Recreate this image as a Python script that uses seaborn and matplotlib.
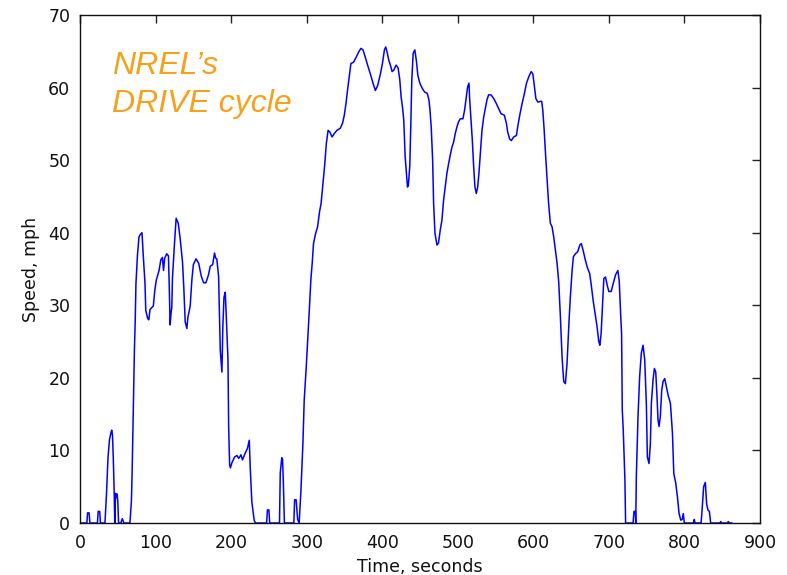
import matplotlib
matplotlib.use("Agg")
import matplotlib.pyplot as plt
import seaborn as sns
import pandas as pd

time_s = [0, 9, 10, 12, 13, 23, 24, 26, 27, 33, 35, 37, 39, 41, 42, 43, 44, 45, 46, 47, 48, 49, 50, 51, 54, 56, 58,
          66, 68, 69, 70, 71, 72, 73, 74, 76, 78, 80, 82, 84, 86, 87, 89.5, 91, 92.6, 95, 97, 99, 101, 104.6, 107, 109,
          110.5, 112, 114.8, 117, 118, 119.2, 120.5, 121.4, 122.3, 125, 127.2, 130, 132.5, 135.6, 137.4, 139.2, 141.4,
          142.7, 145.8, 148, 150, 153.5, 157, 160.5, 163.6, 166.6, 170, 172.4, 175.5, 178, 179.5, 181, 183.4, 185.6,
          187.8, 189, 190.5, 192.2, 193.6, 195.8, 196.7, 198, 199, 201, 204.6, 207.7, 210, 213, 215, 218.5, 221.6, 224,
          225.2, 227.4, 230.5, 232, 247, 248, 250, 251, 264, 265, 267, 268, 269, 270.5, 283, 284, 286, 288, 290,
          292.3, 295, 296.7, 299.4, 301.6, 303.8, 305.5, 307.3, 309, 311.8, 314.4, 317, 319, 321.6, 323.8, 326, 328.3,
          330.5, 333.6, 336.7, 340, 344.5, 347.5, 349.8, 352, 354, 356.8, 358.5, 362, 365.6, 368.7, 371.8, 374.5,
          377.5, 380.6, 384.2, 387.8, 390.9, 394, 397.6, 400.2, 402.9, 404.6, 406.4, 408.6, 410.8, 413, 415.2, 418.3,
          421, 423.2, 425, 426.8, 428.5, 430.3, 432, 433.4, 434.5, 436.4, 437.8, 439.1, 440.9, 443.1, 445.3, 447.1,
          449.8, 452.9, 456, 459.6, 461.8, 463.2, 464.9, 466.7, 468, 469.8, 472.4, 474.5, 476.8, 479, 481.2, 483.4,
          485.6, 487.8, 490, 492.3, 494.5, 496.7, 498.9, 501.1, 503.3, 506.8, 509, 511.3, 513, 514.8, 515.7, 517.4,
          519.2, 521, 522.7, 524.5, 526.3, 528, 529.8, 532, 534.2, 536.4, 538.6, 540.8, 543.9, 547.5, 551, 554.1,
          557.2, 561.6, 564.3, 566, 568.7, 570.9, 574, 577.6, 579.3, 582, 585.1, 588.2, 590.9, 594, 597.1, 599.3,
          601.5, 603.3, 606, 609.5, 611, 612.5, 614.3, 616.2, 618.2, 620.2, 622.5, 624.8, 627, 629.2, 631.4, 633.6,
          635.8, 638, 640.2, 642.4, 644.6, 647.3, 649, 651.3, 653, 655.7, 658.8, 661.4, 663.5, 665.8, 668.9, 671.5,
          674.5, 676.4, 679.1, 681.7, 684.4, 686.6, 688, 689.7, 691.5, 693.3, 695.5, 697.7, 699.9, 703, 705.7, 708.8,
          711.9, 713.7, 715.5, 716.8, 717.7, 719, 721.2, 722.1, 732, 733.2, 735, 735.5, 736.3, 738.5, 740.7, 742.9,
          745.2, 747.4, 749.6, 750.9, 753.1, 754.9, 756.2, 758.4, 760.2, 762, 763.7, 765, 766.4, 768.1, 769.9, 771.7,
          773.9, 776.1, 778.4, 781.4, 784.1, 785.9, 788.5, 790.7, 792.9, 795.1, 797, 798.5, 799.8, 812, 813, 814, 822,
          823.2, 825.4, 827.6, 829.4, 831.1, 833, 834.7, 847, 848, 849, 857, 858, 859, 863]

speed_mph = [0, 0, 1.4, 1.4, 0, 0, 1.6, 1.6, 0, 0, 4, 9, 11.5, 12.5, 12.8, 12, 9, 5, 0, 4.1, 3.5, 4, 3, 0, 0, 0.6, 0,
             0, 3, 7.3, 13, 19.5, 24, 27.7, 33, 36.9, 39.4, 39.8, 40.0, 36.3, 33, 29.3, 28.2, 28.0, 29.4, 29.7, 29.9,
             32.1, 33.5, 34.8, 36.3, 36.6, 34.8, 36.5, 37.1, 36.8, 33, 27.3, 29, 29.6, 33.7, 38.5, 42.0, 41.3, 39.2, 36,
             32.3, 27.7, 26.8, 28.3, 29.9, 33.5, 35.6, 36.4, 35.8, 34, 33.1, 33.1, 34.2, 35.4, 35.6, 37.2, 36.5, 36.4,
             34, 23.8, 20.8, 27, 31.1, 31.8, 28.4, 22.5, 13.3, 8.0, 7.6, 8.3, 9.1, 9.3, 8.9, 9.4, 8.7, 9.6, 10.3, 11.4,
             7.8, 2.9, 0.4, 0, 0, 1.8, 1.8, 0, 0, 6.9, 9.0, 8.8, 6.0, 0, 0, 3.2, 3.2, 0.5, 0,
             4.3, 11, 16.9, 21.5, 25.7, 30, 33.5, 35.8, 38.5, 39.9, 40.8, 42.9, 44, 46.8, 49.3, 52.3, 54.1,
             53.9, 53.2, 53.7, 54.1, 54.4, 55.1, 56.2, 57.8, 59.6, 61.9, 63.3, 63.5, 64.2, 64.9, 65.4, 65.2,
             64.2, 63.1, 61.9, 60.6, 59.6, 60.3, 61.9, 63.3, 65.2, 65.6, 64.9, 63.8, 63.1, 62.2, 62.4, 63.1,
             62.7, 61.1, 58.7, 57.3, 55.5, 50.5, 48.2, 46.3, 46.5, 49.1, 54.8, 61, 64.7, 65.2, 63.6, 61.7,
             60.6, 59.9, 59.4, 59.2, 58.3, 56.9, 54.4, 50, 44, 39.9, 38.3, 38.6, 40.4, 41.7, 44.5, 46.3,
             48.2, 49.5, 50.7, 51.8, 52.5, 53.7, 54.6, 55.3, 55.7, 55.7, 56.9, 58.7, 60.1, 60.6, 58.4, 55.7,
             52.8, 49.1, 46.3, 45.4, 46.3, 48.2, 50.9, 54.1, 55.9, 57.1, 58.3, 59.0, 59.0, 58.5, 57.8, 57.1,
             56.4, 56.2, 55.1, 53.9, 52.9, 52.7, 53.2, 53.4, 54.6, 56.2, 57.8, 59.2, 60.6, 61.5, 62.2, 61.9,
             60.1, 58.5, 58.0, 58.1, 58.1, 56.9, 54.2, 50.7, 47.4, 44, 41.3, 40.8, 39.4, 37.6, 35.8, 33.2,
             28.4, 22.9, 19.5, 19.2, 22.0, 28.0, 31.2, 34.8, 36.7, 37.1, 37.4, 38.3, 38.5, 37.6, 36.2, 35.2,
             34.4, 33.0, 30.7, 28.9, 27.0, 25.0, 24.5, 26.1, 29.8, 33.7, 33.9, 32.8, 31.9, 31.9, 33.0, 34.2,
             34.8, 33.3, 28.9, 26.1, 15.6, 12.8, 5.9, 0, 0, 1.6, 1.6, 0, 6.4, 14.6, 20.2, 23.4,
             24.5, 22.5, 16.3, 9.1, 8.2, 11.0, 16.5, 19.7, 21.3, 20.8, 17.4, 14.2, 13.3, 14.7, 18.3, 19.5,
             19.9, 18.8, 17.6, 16.5, 12.4, 6.8, 5.5, 3.6, 1.3, 0.4, 0.5, 1.3, 0, 0, 0.5, 0, 0,
             1.6, 5.0, 5.6, 2.6, 1.8, 1.6, 0, 0, 0.2, 0, 0, 0.2, 0, 0]

x_ticks = [0, 100, 200, 300, 400, 500, 600, 700, 800, 900]
y_ticks = [0, 10, 20, 30, 40, 50, 60, 70]

df = pd.DataFrame({"Time": time_s, "Speed": speed_mph})

sns.set_style("white")
plt.rcParams["font.family"] = ["DejaVu Sans"]
plt.rcParams["xtick.direction"] = "in"
plt.rcParams["ytick.direction"] = "in"

fig = plt.figure(figsize=(7.87, 5.75), dpi=100)
ax = fig.add_axes([0.1017, 0.0904, 0.8640, 0.8835])

sns.lineplot(data=df, x="Time", y="Speed", ax=ax, color="#0000FF", linewidth=1.1,
             sort=False, estimator=None)

ax.set_xlim(0, 900)
ax.set_ylim(0, 70)
ax.set_xticks(x_ticks)
ax.set_yticks(y_ticks)
ax.tick_params(axis="both", which="both", direction="in", length=6, width=1, color="#222222",
               labelsize=12.5, top=True, right=True, labelcolor="#111111")
ax.tick_params(axis="x", pad=8)
ax.tick_params(axis="y", pad=7)
for s in ax.spines.values():
    s.set_visible(True)
    s.set_color("#111111")
    s.set_linewidth(1.0)

ax.set_xlabel("Time, seconds", fontsize=12.5, color="#111111", labelpad=4)
ax.set_ylabel("Speed, mph", fontsize=12.5, color="#111111", labelpad=6)

ax.text(0.047, 0.862, "NREL\u2019s\nDRIVE cycle", transform=ax.transAxes, fontsize=23,
        style="italic", color="#F7A11A", family="Liberation Sans", linespacing=1.35,
        ha="left", va="center")

fig.savefig("out.png", dpi=100, facecolor="white")
